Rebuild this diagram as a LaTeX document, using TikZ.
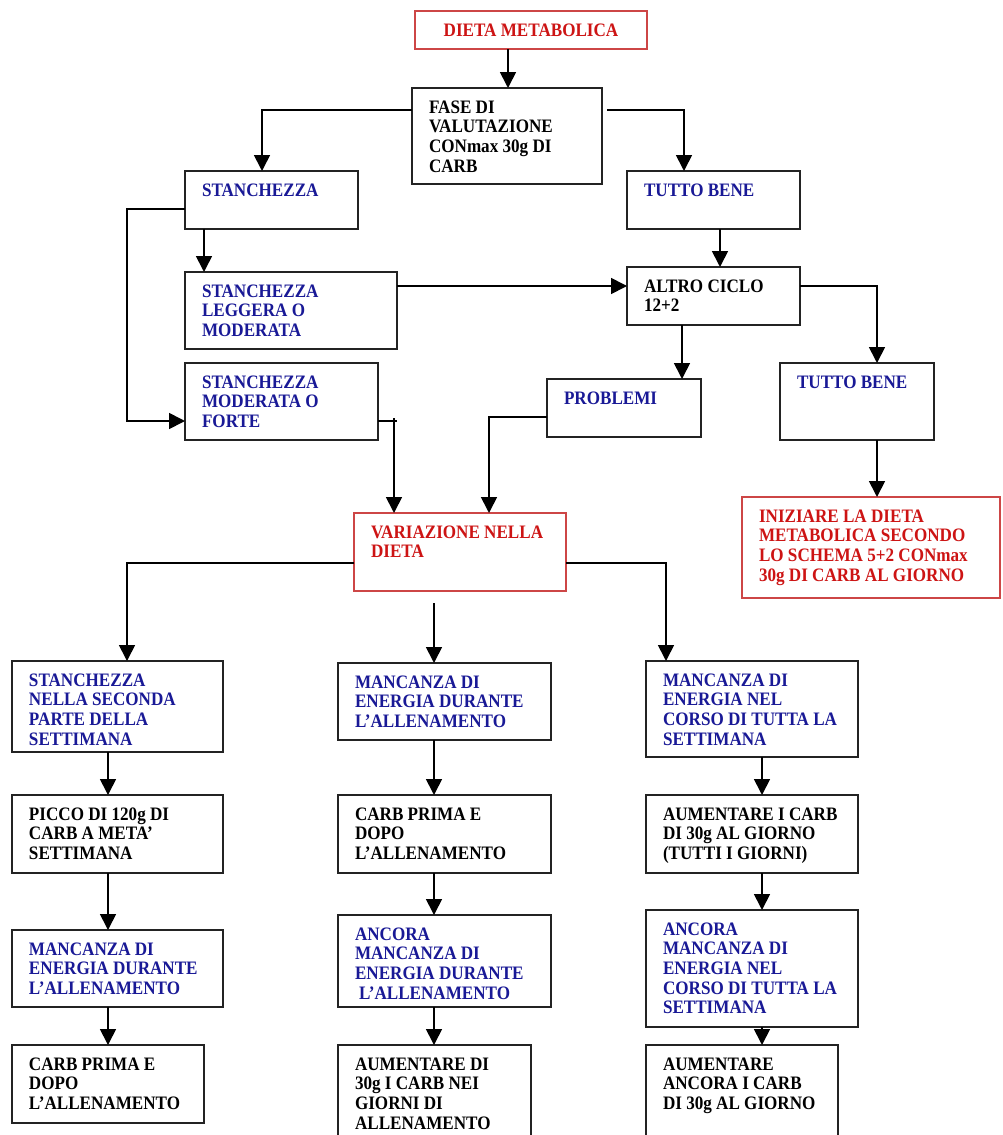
\documentclass[tikz,border=0pt]{standalone}
\usepackage{fontspec}
\setmainfont{Liberation Serif}[FakeStretch=0.9]
\usetikzlibrary{arrows.meta}
\definecolor{txtblue}{RGB}{25,25,150}
\definecolor{txtred}{RGB}{205,20,20}
\definecolor{boxred}{RGB}{205,70,70}
\definecolor{boxblack}{RGB}{35,35,35}
\newcommand\bcont[4]{\parbox[t][#2][t]{#1}{\color{#3}\fontsize{19}{19.7}\selectfont\bfseries
  \parindent=0pt\leftskip=17pt\rightskip=0pt plus 1fil\baselineskip=19.7pt
  \rule{0pt}{25pt}#4\par}}
\tikzset{
  bx/.style={draw=boxblack, line width=1.8pt, inner sep=0pt, outer sep=0pt, anchor=north west, fill=white},
  rbx/.style={draw=boxred, line width=1.3pt, inner sep=0pt, outer sep=0pt, anchor=north west, fill=white},
  ln/.style={line width=1.7pt, black},
  arr/.style={-{Triangle[length=16pt,width=16pt]}}
}
\begin{document}
\begin{tikzpicture}[x=1pt,y=-1pt]
\useasboundingbox (0,0) rectangle (1002,1135);
% top
\node[rbx, anchor=center, minimum width=232pt, minimum height=38pt, text=txtred, font=\fontsize{19}{19.7}\selectfont\bfseries] (dieta) at (531,30) {DIETA METABOLICA};
\node[bx] (fase) at (412,88) {\bcont{190pt}{96pt}{black}{FASE DI\\VALUTAZIONE\\CONmax 30g DI\\CARB}};
\node[bx] (stan) at (185,171) {\bcont{173pt}{58pt}{txtblue}{STANCHEZZA}};
\node[bx] (tutto1) at (627,171) {\bcont{173pt}{58pt}{txtblue}{TUTTO BENE}};
\node[bx] (legg) at (185,272) {\bcont{212pt}{77pt}{txtblue}{STANCHEZZA\\LEGGERA O\\MODERATA}};
\node[bx] (altro) at (627,267) {\bcont{173pt}{58pt}{black}{ALTRO CICLO\\12+2}};
\node[bx] (mod) at (185,363) {\bcont{193pt}{77pt}{txtblue}{STANCHEZZA\\MODERATA O\\FORTE}};
\node[bx] (prob) at (547,379) {\bcont{154pt}{58pt}{txtblue}{PROBLEMI}};
\node[bx] (tutto2) at (780,363) {\bcont{154pt}{77pt}{txtblue}{TUTTO BENE}};
\node[rbx] (varia) at (354,513) {\bcont{212pt}{78pt}{txtred}{VARIAZIONE NELLA\\DIETA}};
\node[rbx] (iniz) at (742,497) {\bcont{258pt}{101pt}{txtred}{INIZIARE LA DIETA\\METABOLICA SECONDO\\LO SCHEMA 5+2 CONmax\\30g DI CARB AL GIORNO}};
% left column
\node[bx] (l1) at (12,661) {\bcont{211pt}{91pt}{txtblue}{STANCHEZZA\\NELLA SECONDA\\PARTE DELLA\\SETTIMANA}};
\node[bx] (l2) at (12,795) {\bcont{211pt}{78pt}{black}{PICCO DI 120g DI\\CARB A META’\\SETTIMANA}};
\node[bx] (l3) at (12,930) {\bcont{211pt}{77pt}{txtblue}{MANCANZA DI\\ENERGIA DURANTE\\L’ALLENAMENTO}};
\node[bx] (l4) at (12,1045) {\bcont{192pt}{78pt}{black}{CARB PRIMA E\\DOPO\\L’ALLENAMENTO}};
% middle column
\node[bx] (m1) at (338,663) {\bcont{213pt}{77pt}{txtblue}{MANCANZA DI\\ENERGIA DURANTE\\L’ALLENAMENTO}};
\node[bx] (m2) at (338,795) {\bcont{213pt}{78pt}{black}{CARB PRIMA E\\DOPO\\L’ALLENAMENTO}};
\node[bx] (m3) at (338,915) {\bcont{213pt}{92pt}{txtblue}{ANCORA\\MANCANZA DI\\ENERGIA DURANTE\\\hspace*{4pt}L’ALLENAMENTO}};
\node[bx] (m4) at (338,1045) {\bcont{193pt}{97pt}{black}{AUMENTARE DI\\30g I CARB NEI\\GIORNI DI\\ALLENAMENTO}};
% right column
\node[bx] (r1) at (646,661) {\bcont{212pt}{96pt}{txtblue}{MANCANZA DI\\ENERGIA NEL\\CORSO DI TUTTA LA\\SETTIMANA}};
\node[bx] (r2) at (646,795) {\bcont{212pt}{78pt}{black}{AUMENTARE I CARB\\DI 30g AL GIORNO\\(TUTTI I GIORNI)}};
\node[bx] (r3) at (646,910) {\bcont{212pt}{117pt}{txtblue}{ANCORA\\MANCANZA DI\\ENERGIA NEL\\CORSO DI TUTTA LA\\SETTIMANA}};
\node[bx] (r4) at (646,1045) {\bcont{192pt}{97pt}{black}{AUMENTARE\\ANCORA I CARB\\DI 30g AL GIORNO}};
% column x positions
\coordinate (xa) at (508,0);
\coordinate (xb) at (262,0);
\coordinate (xc) at (684,0);
\coordinate (xd) at (204,0);
\coordinate (xe) at (720,0);
\coordinate (xf) at (877,0);
\coordinate (xg) at (682,0);
\coordinate (xi) at (489,0);
\coordinate (xj) at (127,0);
\coordinate (xk) at (666,0);
\coordinate (cL) at (108,0);
\coordinate (cM) at (434,0);
\coordinate (cR) at (762,0);
\coordinate (k) at (394,418);
% connectors
\draw[ln,arr] (dieta.south -| xa) -- (fase.north -| xa);
\draw[ln,arr] ([yshift=-22pt]fase.north west) -| (stan.north -| xb);
\draw[ln,arr] ([yshift=-22pt,xshift=5pt]fase.north east) -| (tutto1.north -| xc);
\draw[ln,arr] ([yshift=-38pt]stan.north west) -- ++(-58,0) |- ([yshift=-58pt]mod.north west);
\draw[ln,arr] (stan.south -| xd) -- (legg.north -| xd);
\draw[ln,arr] ([yshift=-14pt]legg.north east) -- ([yshift=-19pt]altro.north west);
\draw[ln,arr] (tutto1.south -| xe) -- (altro.north -| xe);
\draw[ln,arr] ([yshift=-19pt]altro.north east) -| (tutto2.north -| xf);
\draw[ln,arr] (altro.south -| xg) -- (prob.north -| xg);
\draw[ln] ([yshift=-58pt]mod.north east) -- ++(19,0);
\draw[ln,arr] (k) -- (varia.north -| k);
\draw[ln,arr] ([yshift=-38pt]prob.north west) -| (varia.north -| xi);
\draw[ln,arr] (tutto2.south -| xf) -- (iniz.north -| xf);
\draw[ln,arr] ([yshift=-50pt]varia.north west) -| (l1.north -| xj);
\draw[ln,arr,shorten <=12pt] (varia.south -| cM) -- (m1.north -| cM);
\draw[ln,arr] ([yshift=-50pt]varia.north east) -| (r1.north -| xk);
\draw[ln,arr] (l1.south -| cL) -- (l2.north -| cL);
\draw[ln,arr] (l2.south -| cL) -- (l3.north -| cL);
\draw[ln,arr] (l3.south -| cL) -- (l4.north -| cL);
\draw[ln,arr] (m1.south -| cM) -- (m2.north -| cM);
\draw[ln,arr] (m2.south -| cM) -- (m3.north -| cM);
\draw[ln,arr] (m3.south -| cM) -- (m4.north -| cM);
\draw[ln,arr] (r1.south -| cR) -- (r2.north -| cR);
\draw[ln,arr] (r2.south -| cR) -- (r3.north -| cR);
\draw[ln,arr] (r3.south -| cR) -- (r4.north -| cR);
\end{tikzpicture}
\end{document}
